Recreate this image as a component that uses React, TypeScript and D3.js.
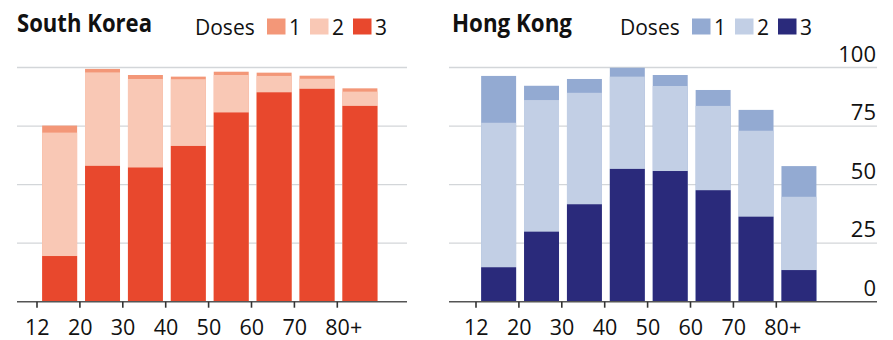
import React from "react";
import * as d3 from "d3";

const categories = ["12", "20", "30", "40", "50", "60", "70", "80+"];
// share of age group with at least N doses, %
const skDose1 = [75.2, 99.4, 96.8, 96.1, 98.2, 97.8, 96.5, 91.1];
const skDose2 = [72.2, 97.9, 95.1, 95.0, 96.8, 96.4, 95.2, 89.7];
const skDose3 = [19.5, 58.0, 57.3, 66.5, 80.8, 89.4, 90.9, 83.6];
const hkDose1 = [96.4, 92.2, 95.1, 99.9, 96.8, 90.4, 81.9, 57.9];
const hkDose2 = [76.4, 86.1, 89.2, 96.1, 92.1, 83.6, 73.0, 44.8];
const hkDose3 = [14.7, 29.9, 41.6, 56.7, 55.8, 47.6, 36.3, 13.5];
const yTicks = [0, 25, 50, 75, 100];
const doseLabels = ["1", "2", "3"];

const skColors = ["#f39778", "#f9c8b5", "#e8482d"];
const hkColors = ["#93aad2", "#c2cfe5", "#2a2a7b"];

const FONT = "'Open Sans', 'Noto Sans', sans-serif";

type PanelProps = {
  title: string;
  titleWidth: number;
  dose1: number[];
  dose2: number[];
  dose3: number[];
  colors: string[];
  firstTick: number;
  lineStart: number;
  lineEnd: number;
  titleX: number;
  legendX: number;
  showAxis: boolean;
};

function Panel(p: PanelProps) {
  const step = 42.9;
  const x = d3
    .scaleBand<string>()
    .domain(categories)
    .range([p.firstTick, p.firstTick + step * categories.length])
    .padding(0);
  const y = d3.scaleLinear().domain([0, 100]).range([301.7, 67.5]);
  const bw = x.step() * 0.815;
  const bOff = x.step() * 0.12;
  const series = [p.dose1, p.dose2, p.dose3];

  const lx = p.legendX;
  const legendItems = [
    { sw: lx + 72, tx: lx + 94 },
    { sw: lx + 115, tx: lx + 137 },
    { sw: lx + 158, tx: lx + 180 },
  ];

  return (
    <g>
      {yTicks
        .filter((t) => t > 0)
        .map((t) => (
          <line
            key={t}
            x1={p.lineStart}
            x2={p.lineEnd}
            y1={y(t)}
            y2={y(t)}
            stroke="#d3d6d9"
            strokeWidth={1.3}
          />
        ))}
      {series.map((s, si) =>
        s.map((v, i) => (
          <rect
            key={`${si}-${i}`}
            x={(x(categories[i]) as number) + bOff}
            y={y(v)}
            width={bw}
            height={y(0) - y(v)}
            fill={p.colors[si]}
          />
        ))
      )}
      <line
        x1={p.lineStart}
        x2={p.lineEnd}
        y1={y(0)}
        y2={y(0)}
        stroke="#555"
        strokeWidth={1.6}
      />
      {categories.map((c) => (
        <line
          key={c}
          x1={x(c) as number}
          x2={x(c) as number}
          y1={y(0)}
          y2={y(0) + 6}
          stroke="#333"
          strokeWidth={1.6}
        />
      ))}
      {categories.map((c) => (
        <text
          key={c}
          x={(x(c) as number) - 12}
          y={334.5}
          fontSize={21.5}
          fontFamily={FONT}
          fill="#111"
        >
          {c}
        </text>
      ))}
      {p.showAxis &&
        yTicks.map((t) => (
          <text
            key={t}
            x={p.lineEnd - 1}
            y={y(t) - 6}
            fontSize={22}
            fontFamily={FONT}
            textAnchor="end"
            fill="#111"
          >
            {t}
          </text>
        ))}
      <text
        x={p.titleX}
        y={32}
        fontSize={25}
        fontWeight="bold"
        fontFamily={FONT}
        textLength={p.titleWidth}
        lengthAdjust="spacingAndGlyphs"
        fill="#111"
      >
        {p.title}
      </text>
      <text x={lx} y={34.5} fontSize={21} fontFamily={FONT} fill="#111">
        Doses
      </text>
      {legendItems.map((it, i) => (
        <g key={i}>
          <rect x={it.sw} y={18.5} width={18.5} height={16} fill={p.colors[i]} />
          <text x={it.tx} y={34.5} fontSize={21} fontFamily={FONT} fill="#111">
            {doseLabels[i]}
          </text>
        </g>
      ))}
    </g>
  );
}

export default function App() {
  return (
    <svg
      width={893}
      height={340}
      style={{ position: "absolute", left: 0, top: 0, background: "#fff" }}
    >
      <rect width={893} height={340} fill="#fff" />
      <Panel
        title="South Korea"
        titleWidth={135}
        dose1={skDose1}
        dose2={skDose2}
        dose3={skDose3}
        colors={skColors}
        firstTick={37}
        lineStart={17}
        lineEnd={407}
        titleX={17}
        legendX={195}
        showAxis={false}
      />
      <Panel
        title="Hong Kong"
        titleWidth={120}
        dose1={hkDose1}
        dose2={hkDose2}
        dose3={hkDose3}
        colors={hkColors}
        firstTick={476}
        lineStart={449}
        lineEnd={877}
        titleX={452}
        legendX={620}
        showAxis={true}
      />
    </svg>
  );
}
